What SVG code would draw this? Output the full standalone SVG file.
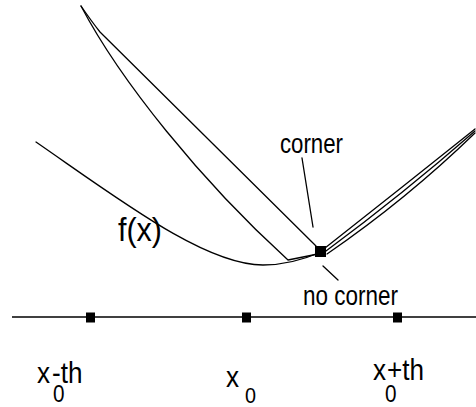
<svg xmlns="http://www.w3.org/2000/svg" width="476" height="407" viewBox="0 0 476 407">
<style>
.c{fill:none;stroke:#000;stroke-width:1.3;stroke-linejoin:round;stroke-linecap:round}
.t{font-family:"Liberation Sans",Arial,sans-serif;fill:#000}
.m{fill:#000}
</style>
<rect width="476" height="407" fill="#fff"/>
<g id="axis">
<line x1="12" y1="317" x2="476" y2="317" stroke="#000" stroke-width="1.6"/>
<rect class="m" x="86" y="312.500" width="9" height="10"/>
<rect class="m" x="242" y="312.500" width="9" height="10"/>
<rect class="m" x="393" y="312.500" width="9" height="10"/>
</g>
<g id="curves">
<path class="c" d="M36,142 C120,200 205,265 263,265 C285,265 305,259 321,252"/>
<path class="c" d="M81,6 C120,80 200,180 288,260 L318,254"/>
<path class="c" d="M81,6 Q92,22 100,32 L316,246"/>
<path class="c" d="M325,248 Q400,189 475,129"/>
<path class="c" d="M326,251 Q403,194 475,131"/>
<path class="c" d="M327,254 Q407,199 475,133"/>
</g>
<g id="point">
<rect class="m" x="315" y="246" width="11" height="11"/>
</g>
<g id="leaders">
<line class="c" x1="302" y1="158" x2="313" y2="227"/>
<line class="c" x1="323" y1="266" x2="338" y2="280"/>
</g>
<g id="labels">
<text class="t" x="118" y="241" font-size="33" textLength="44" lengthAdjust="spacingAndGlyphs">f(x)</text>
<text class="t" x="280" y="153" font-size="28" textLength="63" lengthAdjust="spacingAndGlyphs">corner</text>
<text class="t" x="303" y="305" font-size="27" textLength="95" lengthAdjust="spacingAndGlyphs">no corner</text>
<text class="t" transform="translate(37,383) scale(0.9,1)" font-size="29">x<tspan x="17.800" y="19" font-size="23">0</tspan><tspan x="16.700" y="0">-th</tspan></text>
<text class="t" transform="translate(226,387) scale(0.9,1)" font-size="29">x<tspan x="21.100" y="16" font-size="22">0</tspan></text>
<text class="t" transform="translate(373,380) scale(0.9,1)" font-size="29">x<tspan x="13.300" y="22" font-size="23">0</tspan><tspan x="15.600" y="0">+th</tspan></text>
</g>
</svg>
